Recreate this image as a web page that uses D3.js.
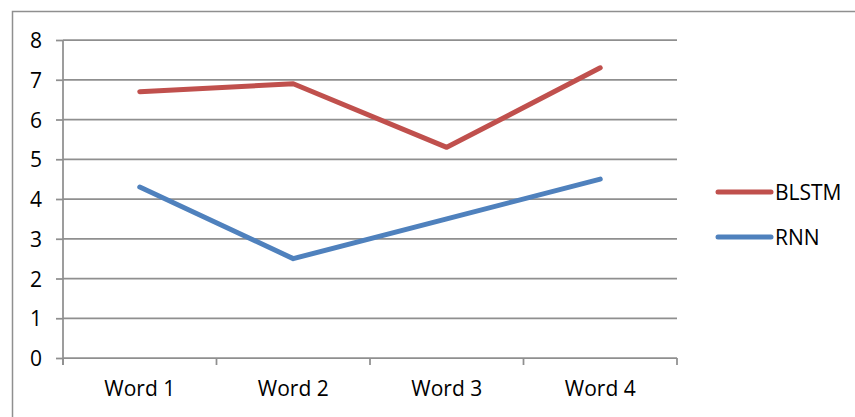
<!DOCTYPE html>
<html>
<head>
<meta charset="utf-8">
<script src="https://cdn.jsdelivr.net/npm/d3@7"></script>
<style>
  html, body { margin: 0; padding: 0; background: #fff; }
  svg { display: block; }
  text { font-family: "Open Sans", "Noto Sans", sans-serif; fill: #000; }
</style>
</head>
<body>
<svg id="chart" width="855" height="417"></svg>
<script>
// Chart data
const categories = ["Word 1", "Word 2", "Word 3", "Word 4"];
const blstmValues = [6.7, 6.9, 5.3, 7.3];
const rnnValues = [4.3, 2.5, 3.5, 4.5];
const yTicks = [0, 1, 2, 3, 4, 5, 6, 7, 8];
const seriesNames = ["BLSTM", "RNN"];
const seriesColors = ["#C0504D", "#4F81BD"];

const series = [
  { name: seriesNames[0], values: blstmValues, color: seriesColors[0] },
  { name: seriesNames[1], values: rnnValues, color: seriesColors[1] }
];

const svg = d3.select("#chart");
const gridColor = "#8f8f8f";

// Outer frame (left and top edges visible)
svg.append("path")
  .attr("d", "M12.5,417 V11.5 H855")
  .attr("fill", "none")
  .attr("stroke", gridColor)
  .attr("stroke-width", 1.5);

const plot = { left: 63, right: 677, top: 40, bottom: 358 };

const x = d3.scaleBand().domain(categories).range([plot.left, plot.right]);
const y = d3.scaleLinear().domain([0, 8]).range([plot.bottom, plot.top]);

// Horizontal gridlines
svg.append("g").selectAll("line")
  .data(yTicks)
  .join("line")
  .attr("x1", plot.left).attr("x2", plot.right)
  .attr("y1", d => y(d)).attr("y2", d => y(d))
  .attr("stroke", gridColor).attr("stroke-width", 1.75);

// Y axis
const yAxis = svg.append("g")
  .attr("transform", `translate(${plot.left},0)`)
  .call(d3.axisLeft(y).tickValues(yTicks).tickFormat(d3.format("d")).tickSize(7).tickPadding(14));
yAxis.select(".domain").remove();
yAxis.selectAll(".tick line").attr("stroke", gridColor).attr("stroke-width", 1.75);
yAxis.selectAll(".tick text").style("font-size", "21px").attr("dy", "0.36em");

// Y axis vertical line (extends down to category tick length)
svg.append("line")
  .attr("x1", plot.left).attr("x2", plot.left)
  .attr("y1", plot.top).attr("y2", plot.bottom + 7)
  .attr("stroke", gridColor).attr("stroke-width", 1.75);

// X axis: category boundary ticks
const boundaries = categories.map(c => x(c)).concat([plot.right]);
svg.append("g").selectAll("line")
  .data(boundaries)
  .join("line")
  .attr("x1", d => d).attr("x2", d => d)
  .attr("y1", plot.bottom).attr("y2", plot.bottom + 7)
  .attr("stroke", gridColor).attr("stroke-width", 1.75);

// Category labels
svg.append("g").selectAll("text")
  .data(categories)
  .join("text")
  .attr("x", d => x(d) + x.bandwidth() / 2)
  .attr("y", 396)
  .attr("text-anchor", "middle")
  .style("font-size", "21px")
  .text(d => d);

// Series lines
const line = d3.line()
  .x((d, i) => x(categories[i]) + x.bandwidth() / 2)
  .y(d => y(d));

svg.append("g").selectAll("path")
  .data(series)
  .join("path")
  .attr("d", d => line(d.values))
  .attr("fill", "none")
  .attr("stroke", d => d.color)
  .attr("stroke-width", 5)
  .attr("stroke-linecap", "round")
  .attr("stroke-linejoin", "round");

// Legend
const legendY = d3.scalePoint().domain(seriesNames).range([192, 237]);
const legend = svg.append("g").selectAll("g")
  .data(series)
  .join("g")
  .attr("transform", d => `translate(0,${legendY(d.name)})`);
legend.append("line")
  .attr("x1", 718).attr("x2", 771)
  .attr("y1", 0).attr("y2", 0)
  .attr("stroke", d => d.color)
  .attr("stroke-width", 5)
  .attr("stroke-linecap", "round");
legend.append("text")
  .attr("x", 775)
  .attr("y", 0)
  .attr("dy", "0.36em")
  .style("font-size", "21px")
  .text(d => d.name);
</script>
</body>
</html>
